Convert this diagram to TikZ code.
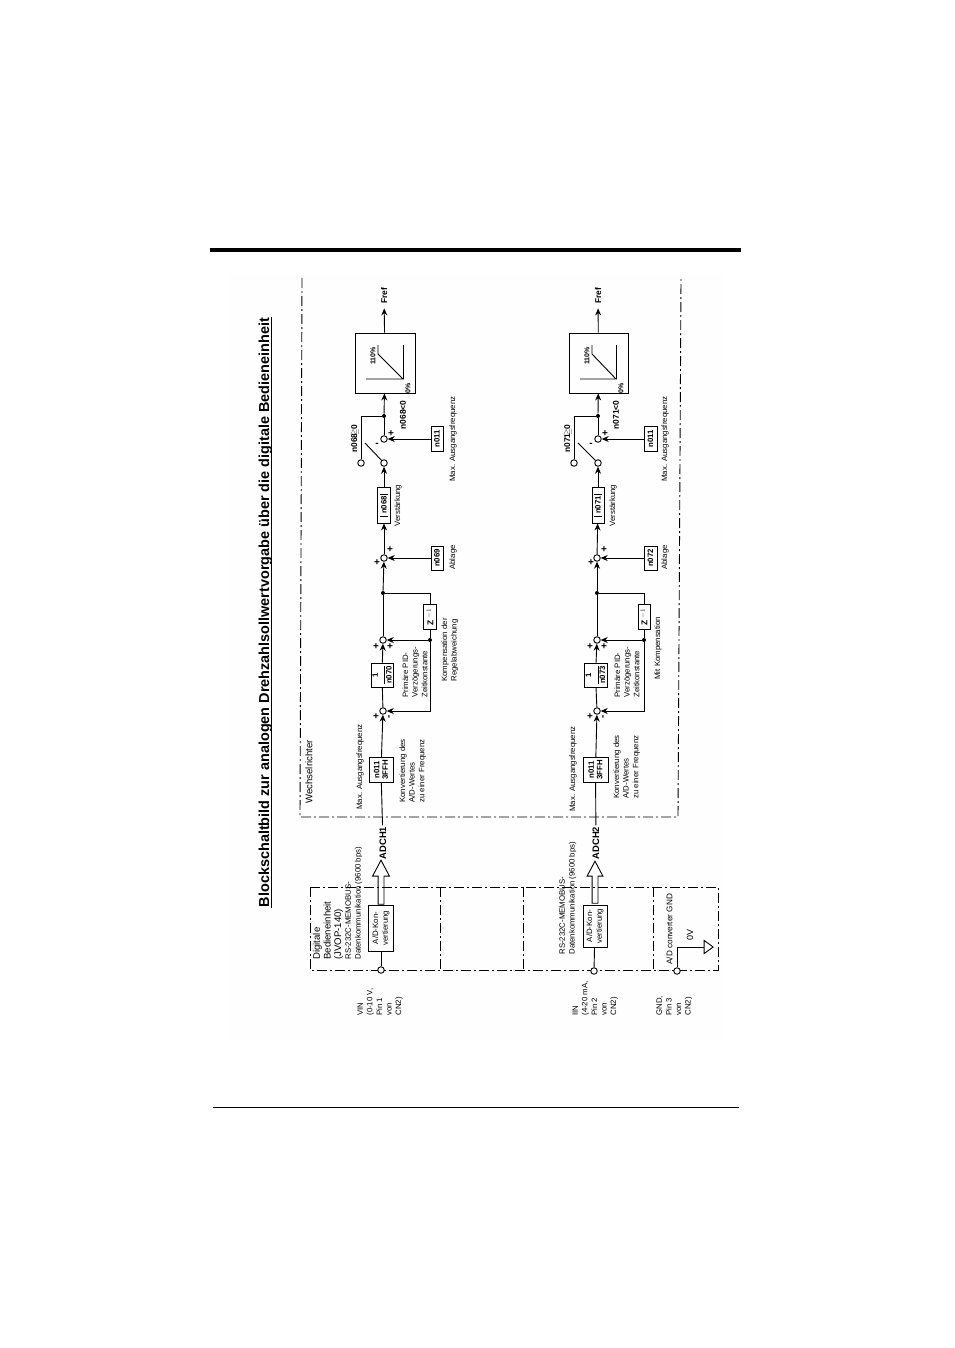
\documentclass[tikz,border=0pt]{standalone}
\usepackage{amsmath}
\usepackage{amssymb}
\usepackage{fontspec}
\setmainfont{Liberation Sans}
\usepackage{tikz}
\usetikzlibrary{arrows.meta,shapes.geometric,shapes.arrows}

\begin{document}
\begin{tikzpicture}[>={Stealth[width=6pt,length=7pt]}, line width=0.9pt,
lbl/.style={rotate=90, anchor=north west, align=left, inner sep=0pt, font=\fontsize{7.8}{9.6}\selectfont},
lblbig/.style={lbl, font=\fontsize{9.6}{10.6}\selectfont},
tag/.style={rotate=90, inner sep=0pt, font=\fontsize{8.4}{9}\selectfont\bfseries},
pct/.style={rotate=90, inner sep=0pt, font=\fontsize{7}{8}\selectfont\bfseries},
sign/.style={inner sep=0pt, font=\fontsize{10}{10}\selectfont\bfseries},
bx/.style={draw, rotate=90, inner sep=0pt, align=center, font=\fontsize{7.8}{8.4}\selectfont\bfseries},
term/.style={circle, draw, fill=white, inner sep=0pt, minimum size=6.5pt},
dot/.style={circle, fill=black, inner sep=0pt, minimum size=4pt},
frame/.style={dash pattern=on 10pt off 3pt on 2pt off 3pt, line width=0.9pt},
]
\useasboundingbox (0pt,0pt) rectangle (954pt,-1348pt);
\fill[black!0.5] (230pt,-275pt) rectangle (722pt,-1040pt);
\fill (210pt,-248pt) rectangle (741pt,-252pt);
\draw[line width=1pt] (213pt,-1107pt) -- (739pt,-1107pt);
\draw (269pt,-612.5pt)node[rotate=90,anchor=base,inner sep=0pt,text depth=2pt,font=\fontsize{14.45}{17}\selectfont\bfseries](title){Blockschaltbild zur analogen Drehzahlsollwertvorgabe über die digitale Bedieneinheit};
\draw (title.south west) -- (title.south east);

% frames
\draw[frame] (302pt,-278pt) -- (300pt,-817pt) -- (678pt,-817pt) -- (681pt,-278pt);
\draw[frame] (310pt,-887pt) rectangle (718pt,-970pt);
\draw[frame] (440pt,-887pt) -- (440pt,-970pt);
\draw[frame] (523pt,-887pt) -- (523pt,-970pt);
\draw[frame] (653pt,-887pt) -- (653pt,-970pt);
\draw (305pt,-804pt)node[lblbig](wr){Wechselrichter};

% upper channel
\draw (384pt,-296pt)node[tag,inner sep=4pt](frefA){Fref};
\draw (385pt,-363pt)node[draw,minimum width=60pt,minimum height=60pt](limA){};
\draw (366pt,-379pt) -- (403pt,-379pt) -- (378pt,-354pt) -- (378pt,-345pt);
\draw (403pt,-379pt) -- (403pt,-345pt);
\draw (373pt,-356pt)node[pct](hiA){110\%};
\draw (408pt,-388pt)node[pct](loA){0\%};
\draw (384pt,-416pt)node[dot](jswA){};
\draw (384pt,-439pt)node[term](posA){};
\draw (384pt,-463pt)node[term](swA){};
\draw (361pt,-463pt)node[term](negA){};
\coordinate (tipA) at (365pt,-443pt);
\draw (377pt,-445pt)node[sign](mA){-};
\draw (391pt,-434pt)node[sign](pA){+};
\draw (403pt,-415pt)node[tag](ltA){n068<0};
\draw (355pt,-439pt)node[tag](geA){n068\kern-1.5pt$\geqq$\kern-1.5pt0};
\draw (437pt,-439pt)node[bx,minimum width=25pt,minimum height=12pt](maxA){n011};
\draw (449pt,-482pt)node[lbl](maxtA){Max. Ausgangsfrequenz};
\draw (384pt,-505pt)node[bx,minimum width=36pt,minimum height=13pt](gainA){n068};
\draw (380pt,-494pt) -- (388pt,-494pt);
\draw (380pt,-516pt) -- (388pt,-516pt);
\draw (394pt,-527pt)node[lbl](gaintA){Verstärkung};
\draw (384pt,-558pt)node[term](sumA){};
\draw (377pt,-563pt)node[sign](s1A){+};
\draw (390pt,-550pt)node[sign](s2A){+};
\draw (437pt,-558pt)node[bx,minimum width=24pt,minimum height=12pt](offA){n069};
\draw (449pt,-570pt)node[lbl](offtA){Ablage};
\draw (383pt,-593pt)node[dot](jzA){};
\draw (430pt,-617pt)node[bx,minimum width=25pt,minimum height=13pt,font=\fontsize{8.4}{9}\selectfont\bfseries](zA){Z $^{-1}$};
\draw (430pt,-640pt)node[dot](jfA){};
\draw (383pt,-640pt)node[term](s3A){};
\draw (376pt,-647pt)node[sign](s4A){+};
\draw (390pt,-647pt)node[sign](s5A){+};
\draw (382pt,-675pt)node[bx,minimum width=24pt,minimum height=22pt](pidA){1\\[-1.5pt]\rule{18pt}{0.6pt}\\[-1.5pt]n070};
\draw (402pt,-698pt)node[lbl](pidtA){Primäre PID-\\Verzögerungs-\\Zeitkonstante};
\draw (441pt,-682pt)node[lbl](komptA){Kompensation der\\Regelabweichung};
\draw (383pt,-711pt)node[term](s6A){};
\draw (376pt,-717pt)node[sign](s7A){+};
\draw (390pt,-717pt)node[sign,rotate=90](s8A){-};
\draw (381pt,-770pt)node[bx,minimum width=25pt,minimum height=24pt](convA){n011\\3FFH};
\draw (356pt,-810pt)node[lbl](convmA){Max. Ausgangsfrequenz};
\draw (399pt,-803pt)node[lbl](convtA){Konvertierung des\\A/D-Wertes\\zu einer Frequenz};
\draw (383pt,-843pt)node[rotate=90,inner sep=1pt,font=\fontsize{9.4}{10}\selectfont\bfseries](adA){ADCH1};
\draw (381pt,-885pt)node[draw,rotate=90,single arrow,single arrow tip angle=56,single arrow head extend=5.5pt,single arrow head indent=0pt,inner sep=2.5pt,minimum height=44pt](busA){};
\draw (381pt,-928pt)node[bx,minimum width=46pt,minimum height=25pt,font=\fontsize{7.8}{9.6}\selectfont](adcA){A/D-Kon-\\vertierung};
\draw (381pt,-970pt)node[term](vin){};
\draw (312.5pt,-960pt)node[lblbig](digt){Digitale\\Bedieneinheit\\(JVOP-140)};
\draw (345pt,-960pt)node[lbl](rsA){RS-232C-MEMOBUS-\\Datenkommunikation (9600 bps)};
\draw (357pt,-1016pt)node[lbl](vint){VIN\\(0-10 V,\\Pin 1\\von\\CN2)};

\path[->] (limA) edge (frefA);
\path[->] (jswA) edge (limA);
\path (posA) edge (jswA);
\draw (jswA) -| (negA);
\draw (swA) -- (tipA);
\path[->] (maxA) edge (posA);
\path[->] (gainA) edge (swA);
\path[->] (sumA) edge (gainA);
\path[->] (offA) edge (sumA);
\path[->] (jzA) edge (sumA);
\path (s3A) edge (jzA);
\draw (jzA) -| (zA);
\path (zA) edge (jfA);
\draw[->] (jfA) -- (s3A);
\draw[->] (jfA) |- (s6A);
\path[->] (pidA) edge (s3A);
\path (s6A) edge (pidA);
\path[->] (convA) edge (s6A);
\path (adA) edge (convA);
\path (vin) edge (adcA);

% lower channel
\draw (598pt,-296pt)node[tag,inner sep=4pt](frefB){Fref};
\draw (598.5pt,-363pt)node[draw,minimum width=59pt,minimum height=60pt](limB){};
\draw (580pt,-379pt) -- (616pt,-379pt) -- (592pt,-354pt) -- (592pt,-345pt);
\draw (616pt,-379pt) -- (616pt,-345pt);
\draw (587pt,-356pt)node[pct](hiB){110\%};
\draw (621pt,-388pt)node[pct](loB){0\%};
\draw (598pt,-416pt)node[dot](jswB){};
\draw (598pt,-439pt)node[term](posB){};
\draw (598pt,-463pt)node[term](swB){};
\draw (574pt,-463pt)node[term](negB){};
\coordinate (tipB) at (578pt,-443pt);
\draw (591pt,-445pt)node[sign](mB){-};
\draw (605pt,-434pt)node[sign](pB){+};
\draw (616pt,-415pt)node[tag](ltB){n071<0};
\draw (568pt,-439pt)node[tag](geB){n071\kern-1.5pt$\geqq$\kern-1.5pt0};
\draw (650.5pt,-439pt)node[bx,minimum width=25pt,minimum height=13pt](maxB){n011};
\draw (661pt,-482pt)node[lbl](maxtB){Max. Ausgangsfrequenz};
\draw (598pt,-505pt)node[bx,minimum width=36pt,minimum height=12pt](gainB){n071};
\draw (594pt,-494pt) -- (602pt,-494pt);
\draw (594pt,-516pt) -- (602pt,-516pt);
\draw (609pt,-527pt)node[lbl](gaintB){Verstärkung};
\draw (597pt,-558pt)node[term](sumB){};
\draw (591pt,-563pt)node[sign](s1B){+};
\draw (604pt,-550pt)node[sign](s2B){+};
\draw (650.5pt,-558pt)node[bx,minimum width=24pt,minimum height=13pt](offB){n072};
\draw (661pt,-570pt)node[lbl](offtB){Ablage};
\draw (597pt,-593pt)node[dot](jzB){};
\draw (644pt,-617pt)node[bx,minimum width=25pt,minimum height=12pt,font=\fontsize{8.4}{9}\selectfont\bfseries](zB){Z $^{-1}$};
\draw (644pt,-640pt)node[dot](jfB){};
\draw (597pt,-640pt)node[term](s3B){};
\draw (590pt,-647pt)node[sign](s4B){+};
\draw (604pt,-647pt)node[sign](s5B){+};
\draw (595.5pt,-675pt)node[bx,minimum width=24pt,minimum height=23pt](pidB){1\\[-1.5pt]\rule{18pt}{0.6pt}\\[-1.5pt]n073};
\draw (614pt,-698pt)node[lbl](pidtB){Primäre PID-\\Verzögerungs-\\Zeitkonstante};
\draw (654pt,-680pt)node[lbl](komptB){Mit Kompensation};
\draw (597pt,-711pt)node[term](s6B){};
\draw (590pt,-717pt)node[sign](s7B){+};
\draw (604pt,-717pt)node[sign,rotate=90](s8B){-};
\draw (595.5pt,-770pt)node[bx,minimum width=25pt,minimum height=25pt](convB){n011\\3FFH};
\draw (569pt,-812pt)node[lbl](convmB){Max. Ausgangsfrequenz};
\draw (613pt,-799pt)node[lbl](convtB){Konvertierung des\\A/D-Wertes\\zu einer Frequenz};
\draw (596pt,-843pt)node[rotate=90,inner sep=1pt,font=\fontsize{9.4}{10}\selectfont\bfseries](adB){ADCH2};
\draw (595pt,-885pt)node[draw,rotate=90,single arrow,single arrow tip angle=56,single arrow head extend=5pt,single arrow head indent=0pt,inner sep=2.5pt,minimum height=42pt](busB){};
\draw (595pt,-926pt)node[bx,minimum width=42pt,minimum height=24pt,font=\fontsize{7.8}{9.6}\selectfont](adcB){A/D-Kon-\\vertierung};
\draw (594pt,-971pt)node[term](iin){};
\draw (559pt,-955pt)node[lbl](rsB){RS-232C-MEMOBUS-\\Datenkommunikation (9600 bps)};
\draw (572pt,-1016pt)node[lbl](iint){IIN\\(4-20 mA,\\Pin 2\\von\\CN2)};

\path[->] (limB) edge (frefB);
\path[->] (jswB) edge (limB);
\path (posB) edge (jswB);
\draw (jswB) -| (negB);
\draw (swB) -- (tipB);
\path[->] (maxB) edge (posB);
\path[->] (gainB) edge (swB);
\path[->] (sumB) edge (gainB);
\path[->] (offB) edge (sumB);
\path[->] (jzB) edge (sumB);
\path (s3B) edge (jzB);
\draw (jzB) -| (zB);
\path (zB) edge (jfB);
\draw[->] (jfB) -- (s3B);
\draw[->] (jfB) |- (s6B);
\path[->] (pidB) edge (s3B);
\path (s6B) edge (pidB);
\path[->] (convB) edge (s6B);
\path (adB) edge (convB);
\path (iin) edge (adcB);

% ground
\draw (666pt,-965pt)node[lbl,font=\fontsize{8.2}{10}\selectfont](gndt){A/D converter GND};
\draw (677pt,-971pt)node[term](gnd){};
\draw (707.5pt,-947pt)node[draw,isosceles triangle,isosceles triangle stretches,inner sep=0pt,minimum height=9pt,minimum width=13pt](zero){};
\draw (690pt,-935pt)node[rotate=90,inner sep=0pt,font=\fontsize{9}{10}\selectfont](zerot){0V};
\draw (656pt,-1016pt)node[lbl](gndl){GND,\\Pin 3\\von\\CN2)};
\draw (gnd) |- (zero);
\end{tikzpicture}
\end{document}
